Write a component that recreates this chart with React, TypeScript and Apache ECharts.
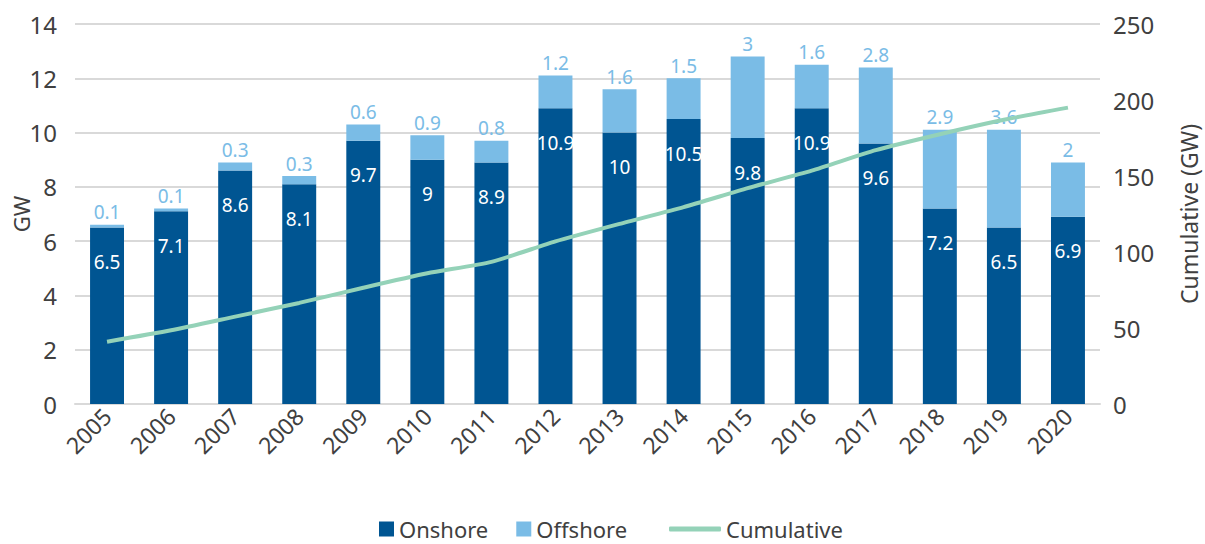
import React, { useEffect, useRef } from "react";
import * as echarts from "echarts";

const years = ["2005","2006","2007","2008","2009","2010","2011","2012","2013","2014","2015","2016","2017","2018","2019","2020"];
const onshore = [6.5, 7.1, 8.6, 8.1, 9.7, 9.0, 8.9, 10.9, 10.0, 10.5, 9.8, 10.9, 9.6, 7.2, 6.5, 6.9];
const offshore = [0.1, 0.1, 0.3, 0.3, 0.6, 0.9, 0.8, 1.2, 1.6, 1.5, 3.0, 1.6, 2.8, 2.9, 3.6, 2.0];
const cumulative = [41, 48.5, 57.5, 66.5, 76.5, 86, 93.5, 107, 118.5, 129.5, 142, 153.5, 167, 177.5, 187, 195];
const leftAxisName = "GW";
const rightAxisName = "Cumulative (GW)";

const FONT = "'Noto Sans', sans-serif";
const TEXT = "#404040";

export default function App() {
  const ref = useRef<HTMLDivElement>(null);
  useEffect(() => {
    const chart = echarts.init(ref.current!, null, { renderer: "svg" });
    chart.setOption({
      animation: false,
      textStyle: { fontFamily: FONT },
      grid: { left: 75, right: 105, top: 24, bottom: 140, containLabel: false, outerBoundsMode: "none" },
      graphic: [
        {
          type: "text",
          x: 21,
          y: 214,
          rotation: Math.PI / 2,
          style: {
            text: leftAxisName,
            fontSize: 22,
            fontFamily: FONT,
            fill: TEXT,
            align: "center",
            verticalAlign: "middle",
          },
        },
      ],
      legend: [
        {
          data: [
            { name: "Onshore", icon: "rect" },
            { name: "Offshore", icon: "rect" },
          ],
          left: 379,
          top: 517,
          padding: 0,
          itemWidth: 15,
          itemHeight: 15,
          itemGap: 28,
          textStyle: { fontSize: 22, lineHeight: 24, color: TEXT, fontFamily: FONT },
        },
        {
          data: [{ name: "Cumulative", icon: "roundRect" }],
          left: 669,
          top: 517,
          padding: 0,
          itemWidth: 52,
          itemHeight: 5,
          textStyle: { fontSize: 22, lineHeight: 24, color: TEXT, fontFamily: FONT },
        },
      ],
      xAxis: {
        type: "category",
        data: years,
        axisLine: { show: true, lineStyle: { color: "#d9d9d9", width: 2 } },
        axisTick: { show: false },
        axisLabel: {
          rotate: 45,
          interval: 0,
          fontSize: 23,
          color: TEXT,
          margin: 8,
          fontFamily: FONT,
        },
      },
      yAxis: [
        {
          type: "value",
          min: 0,
          max: 14,
          interval: 2,
          axisLabel: { fontSize: 24, color: TEXT, margin: 18, fontFamily: FONT },
          splitLine: { lineStyle: { color: "#d9d9d9", width: 2 } },
          axisLine: { show: false },
          axisTick: { show: false },
        },
        {
          type: "value",
          min: 0,
          max: 250,
          interval: 50,
          name: rightAxisName,
          nameLocation: "middle",
          nameGap: 77,
          nameRotate: 90,
          nameTextStyle: { fontSize: 23, color: TEXT, fontFamily: FONT },
          axisLabel: { fontSize: 24, color: TEXT, margin: 13, fontFamily: FONT },
          splitLine: { show: false },
          axisLine: { show: false },
          axisTick: { show: false },
        },
      ],
      series: [
        {
          name: "Onshore",
          type: "bar",
          stack: "gw",
          barWidth: "53%",
          data: onshore,
          itemStyle: { color: "#005592" },
          label: {
            show: true,
            position: "insideTop",
            distance: 25,
            color: "#ffffff",
            fontSize: 19,
            fontFamily: FONT,
          },
        },
        {
          name: "Offshore",
          type: "bar",
          stack: "gw",
          data: offshore,
          itemStyle: { color: "#7abce6" },
          label: {
            show: true,
            position: "top",
            distance: 3,
            color: "#7abce6",
            fontSize: 19,
            fontFamily: FONT,
          },
        },
        {
          name: "Cumulative",
          type: "line",
          yAxisIndex: 1,
          data: cumulative,
          smooth: 0.2,
          symbol: "none",
          lineStyle: { color: "#94d2b8", width: 4 },
          itemStyle: { color: "#94d2b8" },
        },
      ],
    });
    return () => chart.dispose();
  }, []);
  return <div ref={ref} style={{ width: 1205, height: 544, position: "absolute", left: 0, top: 0 }} />;
}
